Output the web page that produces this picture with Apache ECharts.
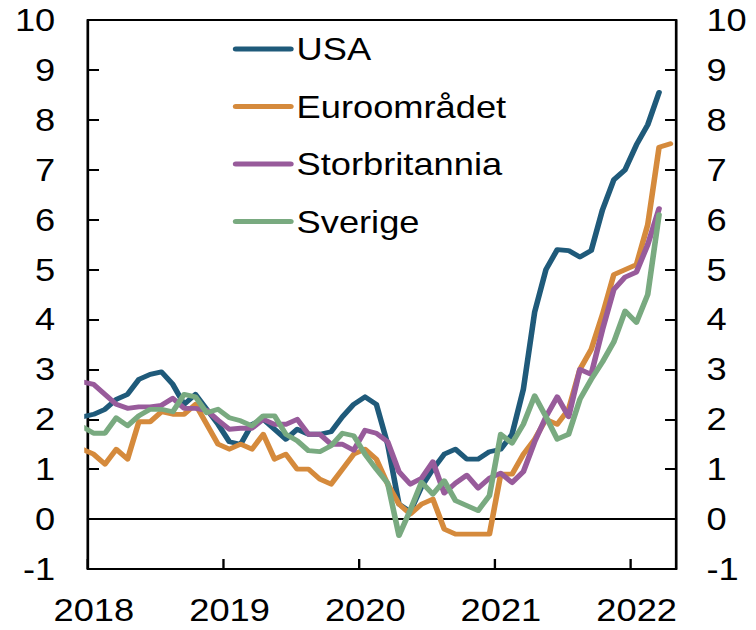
<!DOCTYPE html>
<html>
<head>
<meta charset="utf-8">
<script src="https://cdn.jsdelivr.net/npm/echarts@6/dist/echarts.min.js"></script>
<style>
    html, body { margin: 0; padding: 0; background: #fff; overflow: hidden; }
    /* the reference text is drawn wide, so the chart is laid out narrower and stretched */
    #chart { width: 646px; height: 630px; transform: scaleX(1.17); transform-origin: 0 0; }
</style>
</head>
<body>
<div id="chart"></div>
<script>
// monthly values, first entry = Dec 2017 (enters from the left edge), then Jan 2018 onwards
var yearLabels = ["2018", "2019", "2020", "2021", "2022"];
var seriesNames = ["USA", "Euroområdet", "Storbritannia", "Sverige"];
var seriesColors = ["#1f5a7a", "#d58a3c", "#985b9b", "#79aa80"];

var usa = [2.05,
    2.1, 2.2, 2.4, 2.5, 2.8, 2.9, 2.95, 2.7, 2.3, 2.5, 2.2, 1.9,
    1.55, 1.5, 1.9, 2.0, 1.8, 1.6, 1.8, 1.7, 1.7, 1.75, 2.05, 2.3,
    2.45, 2.3, 1.5, 0.3, 0.15, 0.65, 1.0, 1.3, 1.4, 1.2, 1.2, 1.35,
    1.4, 1.7, 2.6, 4.15, 5.0, 5.4, 5.38, 5.25, 5.38, 6.2, 6.8, 7.0,
    7.5, 7.9, 8.55];
var euro = [1.4,
    1.3, 1.1, 1.4, 1.2, 1.95, 1.95, 2.15, 2.1, 2.1, 2.3, 1.9, 1.5,
    1.4, 1.5, 1.4, 1.7, 1.2, 1.3, 1.0, 1.0, 0.8, 0.7, 1.0, 1.3,
    1.4, 1.2, 0.7, 0.3, 0.1, 0.3, 0.4, -0.2, -0.3, -0.3, -0.3, -0.3,
    0.9, 0.9, 1.3, 1.6, 2.0, 1.9, 2.2, 3.0, 3.4, 4.1, 4.9, 5.0,
    5.1, 5.9, 7.45, 7.52];
var uk = [2.75,
    2.7, 2.5, 2.3, 2.22, 2.25, 2.25, 2.28, 2.42, 2.22, 2.22, 2.18, 1.98,
    1.8, 1.82, 1.82, 2.0, 1.9, 1.9, 2.0, 1.7, 1.7, 1.5, 1.5, 1.38,
    1.78, 1.72, 1.55, 0.95, 0.7, 0.82, 1.15, 0.52, 0.72, 0.88, 0.62, 0.82,
    0.92, 0.73, 0.95, 1.55, 2.05, 2.45, 2.05, 3.0, 2.9, 3.8, 4.6, 4.85,
    4.95, 5.5, 6.22];
var sweden = [1.85,
    1.72, 1.72, 2.03, 1.87, 2.07, 2.2, 2.2, 2.15, 2.5, 2.45, 2.13, 2.2,
    2.03, 1.97, 1.87, 2.07, 2.07, 1.7, 1.57, 1.37, 1.35, 1.47, 1.72, 1.67,
    1.3, 1.0, 0.72, -0.33, 0.18, 0.74, 0.5, 0.77, 0.37, 0.27, 0.17, 0.47,
    1.7, 1.52, 1.9, 2.47, 2.05, 1.6, 1.7, 2.4, 2.8, 3.15, 3.55, 4.17,
    3.94, 4.5, 6.1];

var font = "'Liberation Sans', Arial, sans-serif";

function toPoints(values) {
    // x = months since Jan 2018, Dec 2017 sits at -1
    return values.map(function (v, i) { return [i - 1, v]; });
}

function yearLabel(value) {
    var k = Math.round(value + 0.5);
    if (k % 12 === 0 && k / 12 < yearLabels.length) {
        return yearLabels[k / 12];
    }
    return "";
}

function yAxisOpt(pos, margin) {
    return {
        type: "value",
        position: pos,
        min: -1,
        max: 10,
        interval: 1,
        axisLine: { show: true, onZero: false, lineStyle: { color: "#000", width: 2 } },
        axisTick: { show: true, inside: true, length: 9.4, lineStyle: { color: "#000", width: 2 } },
        axisLabel: { color: "#000", fontSize: 31, fontFamily: font, margin: margin },
        splitLine: { show: false }
    };
}

var allValues = [usa, euro, uk, sweden];

var chart = echarts.init(document.getElementById("chart"), null, { renderer: "svg" });
chart.setOption({
    animation: false,
    backgroundColor: "#fff",
    grid: {
        left: 75.2, right: 68.2, top: 20, bottom: 61,
        show: true, borderColor: "#000", borderWidth: 2, backgroundColor: "transparent"
    },
    legend: {
        orient: "vertical",
        left: 199,
        top: 33,
        padding: 0,
        itemWidth: 47,
        itemHeight: 5,
        itemGap: 25.5,
        data: seriesNames,
        textStyle: { color: "#000", fontSize: 31, fontFamily: font, lineHeight: 32 },
        itemStyle: { opacity: 0 },
        lineStyle: { width: 5, cap: "round" }
    },
    xAxis: [{
        type: "value",
        min: -0.5,
        max: 51.5,
        interval: 12,
        position: "bottom",
        axisLine: { show: true, onZero: false, lineStyle: { color: "#000", width: 2 } },
        axisTick: { show: true, inside: true, length: 10, lineStyle: { color: "#000", width: 2 } },
        axisLabel: {
            color: "#000", fontSize: 31, fontFamily: font, margin: 25,
            padding: [0, 0, 0, 10],
            showMaxLabel: false,
            formatter: yearLabel
        },
        splitLine: { show: false }
    }, {
        // zero line
        type: "value",
        min: -0.5,
        max: 51.5,
        position: "top",
        axisLine: { show: true, onZero: true, lineStyle: { color: "#000", width: 2 } },
        axisTick: { show: false },
        axisLabel: { show: false },
        splitLine: { show: false }
    }],
    yAxis: [yAxisOpt("left", 28), yAxisOpt("right", 26)],
    series: seriesNames.map(function (name, idx) {
        return {
            name: name,
            type: "line",
            xAxisIndex: 0,
            yAxisIndex: 0,
            symbol: "none",
            clip: true,
            data: toPoints(allValues[idx]),
            itemStyle: { color: seriesColors[idx] },
            lineStyle: { color: seriesColors[idx], width: 4.8, cap: "round", join: "round" }
        };
    })
});
</script>
</body>
</html>
